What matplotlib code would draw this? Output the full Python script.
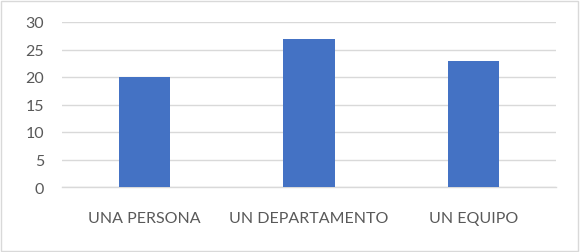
import matplotlib.pyplot as plt
from matplotlib.patches import Rectangle

categories = ["UNA PERSONA", "UN DEPARTAMENTO", "UN EQUIPO"]
values = [20, 27, 23]
yticks = [0, 5, 10, 15, 20, 25, 30]

plt.rcParams['font.family'] = ['Lato', 'DejaVu Sans']

fig = plt.figure(figsize=(5.80, 2.53), dpi=100)
ax = fig.add_axes([62/580, 1 - 188/253, 494/580, 165/253])

x = range(len(categories))
ax.bar(x, values, width=0.31, color='#4472C4', zorder=3)

ax.set_xlim(-0.5, 2.5)
ax.set_ylim(0, 30)
ax.set_yticks(yticks)
ax.set_xticks(list(x))
ax.set_xticklabels(categories)
ax.grid(axis='y', color='#D9D9D9', linewidth=1, zorder=0)
for s in ['top', 'left', 'right']:
    ax.spines[s].set_visible(False)
ax.spines['bottom'].set_color('#D9D9D9')
ax.spines['bottom'].set_linewidth(1)
ax.tick_params(axis='both', length=0, colors='#595959', labelsize=11.5)
ax.tick_params(axis='y', pad=13)
ax.tick_params(axis='x', pad=17)

# light border around the chart area
fig.patches.append(Rectangle((1/580, 1/253), 577/580, 250/253, transform=fig.transFigure,
                             fill=False, edgecolor='#D9D9D9', linewidth=1))

fig.savefig('out.png', dpi=100)
